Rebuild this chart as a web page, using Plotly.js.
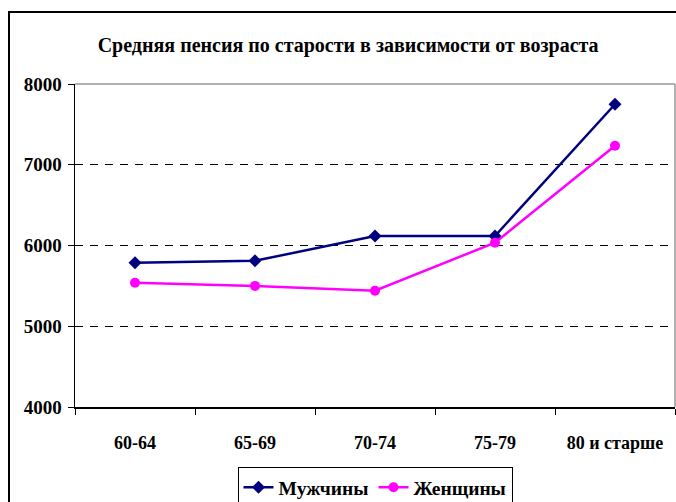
<!DOCTYPE html>
<html><head><meta charset="utf-8">
<script src="https://cdn.plot.ly/plotly-3.0.1.min.js"></script>
<style>html,body{margin:0;padding:0;overflow:hidden;background:#fff}#frame{position:absolute;left:8px;top:11px;width:720px;height:560px;border:2px solid #000;pointer-events:none}</style>
</head><body>
<div id="chart" style="width:676px;height:502px"></div>
<div id="frame"></div>
<script>
const categories = ["60-64", "65-69", "70-74", "75-79", "80 и старше"];
const men = [5787, 5810, 6118, 6118, 7749];
const women = [5539, 5500, 5440, 6035, 7236];
const yTicks = [4000, 5000, 6000, 7000, 8000];

const font = "Times New Roman, Liberation Serif, DejaVu Serif, serif";
const traces = [
  {x: categories, y: men, name: "Мужчины", type: "scatter", mode: "lines+markers",
   line: {color: "#000080", width: 2.5}, marker: {symbol: "diamond", size: 10, color: "#000080"}},
  {x: categories, y: women, name: "Женщины", type: "scatter", mode: "lines+markers",
   line: {color: "#FF00FF", width: 2.5}, marker: {symbol: "circle", size: 10, color: "#FF00FF"}}
];
const layout = {
  width: 676, height: 502,
  margin: {l: 75, r: 1, t: 84, b: 95, autoexpand: false},
  paper_bgcolor: "#fff", plot_bgcolor: "#fff",
  font: {family: font, color: "#000"},
  title: {text: "<b>Средняя пенсия по старости в зависимости от возраста</b>", font: {size: 20, family: font, color: "#000", weight: "bold"},
          x: 0.515, xanchor: "center", y: 0.91, yanchor: "middle"},
  xaxis: {type: "category", range: [-0.5, 4.5], showline: true, linecolor: "#000", linewidth: 1.5,
          ticks: "outside", tickson: "boundaries", ticklen: 6, tickcolor: "#000", tickwidth: 1,
          showgrid: false, tickfont: {size: 18, family: font, weight: "bold"}, ticklabelstandoff: 19, fixedrange: true},
  yaxis: {range: [4000, 8000], tickvals: yTicks, showline: true, linecolor: "#000", linewidth: 1.5,
          ticks: "outside", ticklen: 6, tickcolor: "#000", showgrid: true, gridcolor: "#000",
          griddash: "8px,7px", gridwidth: 1, zeroline: false, tickfont: {size: 19, family: font, weight: "bold"}, ticklabelstandoff: 2, fixedrange: true},
  showlegend: true,
  legend: {orientation: "h", x: 0.5, xanchor: "center", y: -0.186, yanchor: "top",
           bordercolor: "#000", borderwidth: 1, font: {size: 19.5, family: font, weight: "bold"}, itemwidth: 30},
  shapes: [
    {type: "line", xref: "paper", yref: "paper", x0: 0, x1: 1, y0: 1, y1: 1, line: {color: "#999", width: 1.5}},
    {type: "line", xref: "paper", yref: "paper", x0: 1, x1: 1, y0: 0, y1: 1, line: {color: "#999", width: 1.5}}
  ]
};
Plotly.newPlot("chart", traces, layout, {staticPlot: true});
</script>
</body></html>
